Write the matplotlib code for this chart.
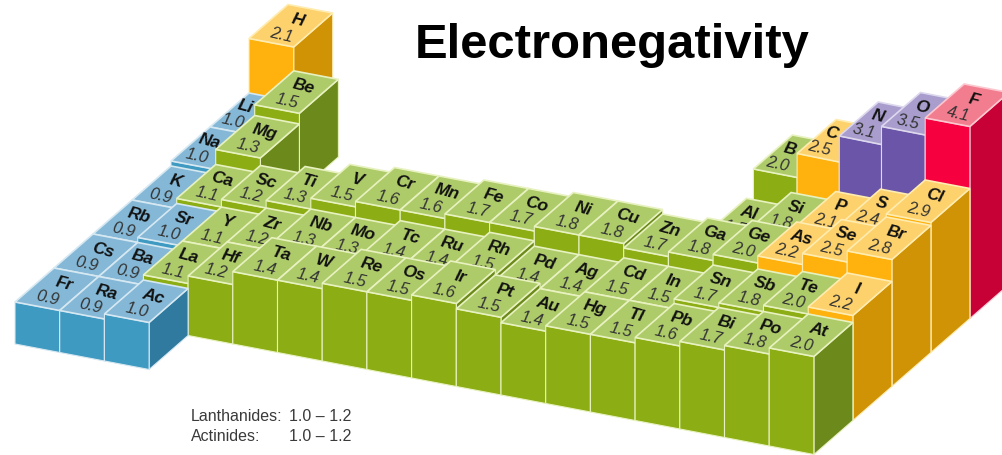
################################################################
# libraries:
import numpy as np
import matplotlib
matplotlib.use("Agg")
import matplotlib.pyplot as plt
from matplotlib.patches import Polygon

################################################################
# data:
symbols = ["H",
           "Li", "Be", "B", "C", "N", "O", "F",
           "Na", "Mg", "Al", "Si", "P", "S", "Cl",
           "K", "Ca", "Sc", "Ti", "V", "Cr", "Mn", "Fe", "Co", "Ni", "Cu", "Zn", "Ga", "Ge", "As", "Se", "Br",
           "Rb", "Sr", "Y", "Zr", "Nb", "Mo", "Tc", "Ru", "Rh", "Pd", "Ag", "Cd", "In", "Sn", "Sb", "Te", "I",
           "Cs", "Ba", "La", "Hf", "Ta", "W", "Re", "Os", "Ir", "Pt", "Au", "Hg", "Tl", "Pb", "Bi", "Po", "At",
           "Fr", "Ra", "Ac"]
values = [2.1,
          1.0, 1.5, 2.0, 2.5, 3.1, 3.5, 4.1,
          1.0, 1.3, 1.5, 1.8, 2.1, 2.4, 2.9,
          0.9, 1.1, 1.2, 1.3, 1.5, 1.6, 1.6, 1.7, 1.7, 1.8, 1.8, 1.7, 1.8, 2.0, 2.2, 2.5, 2.8,
          0.9, 1.0, 1.1, 1.2, 1.3, 1.3, 1.4, 1.4, 1.5, 1.4, 1.4, 1.5, 1.5, 1.7, 1.8, 2.0, 2.2,
          0.9, 0.9, 1.1, 1.2, 1.4, 1.4, 1.5, 1.5, 1.6, 1.5, 1.4, 1.5, 1.5, 1.6, 1.7, 1.8, 2.0,
          0.9, 0.9, 1.0]
periods = [1] + [2] * 7 + [3] * 7 + [4] * 17 + [5] * 17 + [6] * 17 + [7] * 3
main_groups = [13, 14, 15, 16, 17]
full_row = list(range(1, 18))
groups = [1] + [1, 2] + main_groups + [1, 2] + main_groups + full_row + full_row + full_row + [1, 2, 3]

title = "Electronegativity"
note_names = ["Lanthanides:", "Actinides:"]
note_ranges = ["1.0 \u2013 1.2", "1.0 \u2013 1.2"]

# top, front and side shade for each electronegativity band
band_limits = [1.05, 2.05, 3.0, 4.0]
band_colors = [("#84b8d6", "#3f9ac2", "#2f7a9e"),
               ("#aecb6a", "#8cad14", "#6c8a1b"),
               ("#fdd16c", "#ffb20e", "#d09306"),
               ("#a89dcc", "#6a55a8", "#5b4a9a"),
               ("#f27d8f", "#f6003f", "#c70036")]
edge_colors = ["#d6e8f2", "#e8f2c0", "#ffecb0", "#ddd8ee", "#fcc8d0"]

################################################################
# functions:
def floor_xy(u, v, p):
    # floor position of a cell corner, u along the groups and v along the periods
    x = 288 + 44.7 * u - 39.0 * v
    y = 107 + 8.5 * u + 34.0 * v
    if p == 2 and u >= 12:
        # the far block of the top row sits a bit further right
        x += np.interp(u, [12, 13, 14, 15, 16], [7, 6, 3.5, 1, 0])
    return np.array([x, y])

def bar_height(value, g, p):
    # the height scale is not quite linear and the far right block stands taller
    if p == 2 and g >= 13:
        return np.interp(value, [2.0, 2.5, 3.1, 3.5, 4.1], [107, 131, 157, 175, 192])
    return np.interp(value, [0, 0.9, 1.1, 1.3, 1.6, 1.8, 2.0, 2.2, 2.8, 2.9],
                     [0, 42, 52, 67, 83, 92, 98, 105, 127, 130])

def top_xy(u, v, value, g, p):
    return floor_xy(u, v, p) - np.array([0, bar_height(value, g, p)])

def right_neighbour(g, p):
    for n in range(len(symbols)):
        if groups[n] == g + 1 and periods[n] == p:
            return n
    return None

################################################################
# plot:
fig = plt.figure(figsize=(10.02, 4.56), dpi=100)
ax = fig.add_axes([0, 0, 1, 1])
ax.set_xlim(0, 1002)
ax.set_ylim(456, 0)
ax.axis("off")
plt.rcParams["font.family"] = ["Liberation Sans", "DejaVu Sans"]

# back rows first, then left to right, so nearer bars cover the ones behind
order = sorted(range(len(symbols)), key=lambda i: (periods[i], groups[i]))
for z, i in enumerate(order):
    g, p, val = groups[i], periods[i], values[i]
    band = np.searchsorted(band_limits, val)
    c_top, c_front, c_side = band_colors[band]
    edge = edge_colors[band]

    fl, fr = floor_xy(g - 1, p, p), floor_xy(g, p, p)
    br = floor_xy(g, p - 1, p)
    tfl, tfr = top_xy(g - 1, p, val, g, p), top_xy(g, p, val, g, p)
    tbr, tbl = top_xy(g, p - 1, val, g, p), top_xy(g - 1, p - 1, val, g, p)

    ax.add_patch(Polygon([tfr, tbr, br, fr], facecolor=c_side, edgecolor=edge, lw=0.8, zorder=z))
    ax.add_patch(Polygon([tfl, tfr, fr, fl], facecolor=c_front, edgecolor=edge, lw=0.8, zorder=z))
    ax.add_patch(Polygon([tfl, tfr, tbr, tbl], facecolor=c_top, edgecolor=edge, lw=1.2, zorder=z))

    # labels slide left along the row when a taller bar to the right hides part of the top
    shift = 0
    n = right_neighbour(g, p)
    if n is not None:
        shift = min(14, 0.5 * max(0, bar_height(values[n], groups[n], p) - bar_height(val, g, p)))
    sym_xy = top_xy(g - 0.5, p - 0.68, val, g, p) - [shift, 0.19 * shift]
    val_xy = top_xy(g - 0.5, p - 0.26, val, g, p) - [shift * 0.7, 0.19 * shift * 0.7]
    ax.text(sym_xy[0], sym_xy[1], symbols[i], fontsize=12.5, fontweight="bold", fontstyle="italic",
            color="#111111", rotation=-15, rotation_mode="anchor", ha="center", va="center", zorder=z + 0.5)
    ax.text(val_xy[0], val_xy[1], f"{val:.1f}", fontsize=12, fontstyle="italic",
            color="#333333", rotation=-13, rotation_mode="anchor", ha="center", va="center", zorder=z + 0.5)

ax.text(612.5, 46, title, fontsize=35.3, fontweight="bold", color="black", ha="center", va="center", zorder=500)
for row in range(len(note_names)):
    y = 417 + 20 * row
    ax.text(191, y, note_names[row], fontsize=11.5, color="#3a3a3a", va="center", zorder=500)
    ax.text(289, y, note_ranges[row], fontsize=11.5, color="#3a3a3a", va="center", zorder=500)

plt.savefig("out.png", dpi=100)
plt.close()
